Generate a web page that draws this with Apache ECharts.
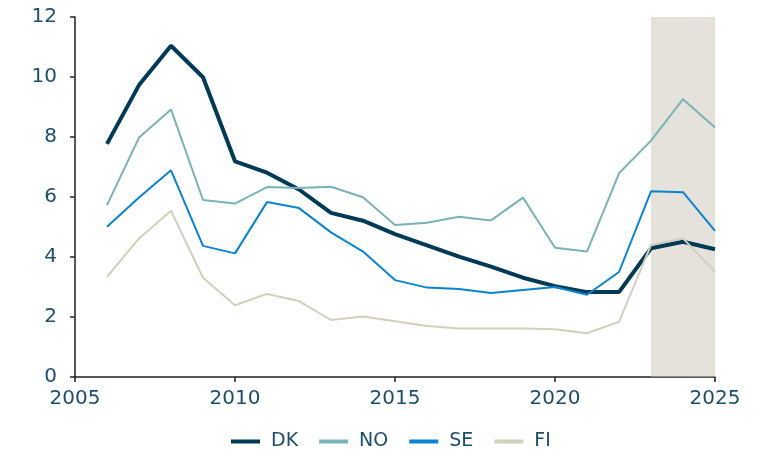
<!DOCTYPE html>
<html>
<head>
<meta charset="utf-8">
<script src="https://cdn.jsdelivr.net/npm/echarts@6/dist/echarts.min.js"></script>
<style>
  html, body { margin: 0; padding: 0; background: #fff; }
  #chart { width: 764px; height: 456px; }
</style>
</head>
<body>
<div id="chart"></div>
<script>
// years on the x axis
var years = [2006, 2007, 2008, 2009, 2010, 2011, 2012, 2013, 2014, 2015, 2016,
             2017, 2018, 2019, 2020, 2021, 2022, 2023, 2024, 2025];

var dk = [7.77, 9.73, 11.04, 9.99, 7.19, 6.81, 6.25, 5.47, 5.21, 4.76, 4.39,
          4.01, 3.68, 3.31, 3.03, 2.83, 2.83, 4.29, 4.51, 4.26];
var no = [5.73, 7.98, 8.92, 5.90, 5.78, 6.33, 6.30, 6.34, 5.99, 5.07, 5.14,
          5.34, 5.22, 5.98, 4.31, 4.18, 6.79, 7.88, 9.26, 8.32];
var se = [5.01, 5.98, 6.89, 4.37, 4.12, 5.83, 5.63, 4.82, 4.18, 3.23, 2.98,
          2.93, 2.80, 2.90, 3.00, 2.74, 3.50, 6.19, 6.16, 4.87];
var fi = [3.34, 4.62, 5.54, 3.31, 2.39, 2.77, 2.53, 1.90, 2.02, 1.86, 1.70,
          1.62, 1.62, 1.62, 1.59, 1.46, 1.84, 4.40, 4.62, 3.51];

// forecast period shaded
var forecastStart = 2023;
var forecastEnd = 2025;

var labelColor = '#1d4e6e';
var axisColor = '#222';
var font = 'DejaVu Sans';

function pairs(vals) {
    return years.map(function (y, i) { return [y, vals[i]]; });
}

function lineSeries(name, vals, color, width) {
    return {
        name: name,
        type: 'line',
        data: pairs(vals),
        symbol: 'none',
        z: 2,
        lineStyle: { color: color, width: width },
        itemStyle: { color: color }
    };
}

var chart = echarts.init(document.getElementById('chart'));

chart.setOption({
    animation: false,
    grid: { left: 75, right: 49, top: 17, bottom: 79 },
    legend: {
        bottom: 0,
        left: 226,
        itemWidth: 29,
        itemHeight: 4,
        itemGap: 21,
        icon: 'rect',
        textStyle: { color: labelColor, fontSize: 19, fontFamily: font, padding: [0, 0, 0, 6] },
        data: ['DK', 'NO', 'SE', 'FI']
    },
    xAxis: {
        type: 'value',
        min: 2005,
        max: 2025,
        interval: 5,
        axisLine: { show: true, lineStyle: { color: axisColor, width: 1.5 } },
        axisTick: { show: true, length: 5, lineStyle: { color: axisColor, width: 1.5 } },
        splitLine: { show: false },
        axisLabel: {
            color: labelColor, fontSize: 20, fontFamily: font, margin: 12,
            formatter: function (v) { return String(v); }
        }
    },
    yAxis: {
        type: 'value',
        min: 0,
        max: 12,
        interval: 2,
        axisLine: { show: true, lineStyle: { color: axisColor, width: 1.5 } },
        axisTick: { show: true, length: 5, lineStyle: { color: axisColor, width: 1.5 } },
        splitLine: { show: false },
        axisLabel: { color: labelColor, fontSize: 20, fontFamily: font, margin: 18 }
    },
    series: [
        lineSeries('DK', dk, '#003a57', 4),
        lineSeries('NO', no, '#7ab3b5', 2),
        lineSeries('SE', se, '#0a84d0', 2),
        lineSeries('FI', fi, '#d3cfbf', 2),
        {
            // translucent shade drawn over the lines (own layer)
            type: 'line',
            data: [],
            zlevel: 1,
            silent: true,
            markArea: {
                silent: true,
                itemStyle: { color: 'rgba(199,195,178,0.48)' },
                data: [[{ xAxis: forecastStart, yAxis: 0 }, { xAxis: forecastEnd, yAxis: 12.08 }]]
            }
        }
    ]
});
</script>
</body>
</html>
